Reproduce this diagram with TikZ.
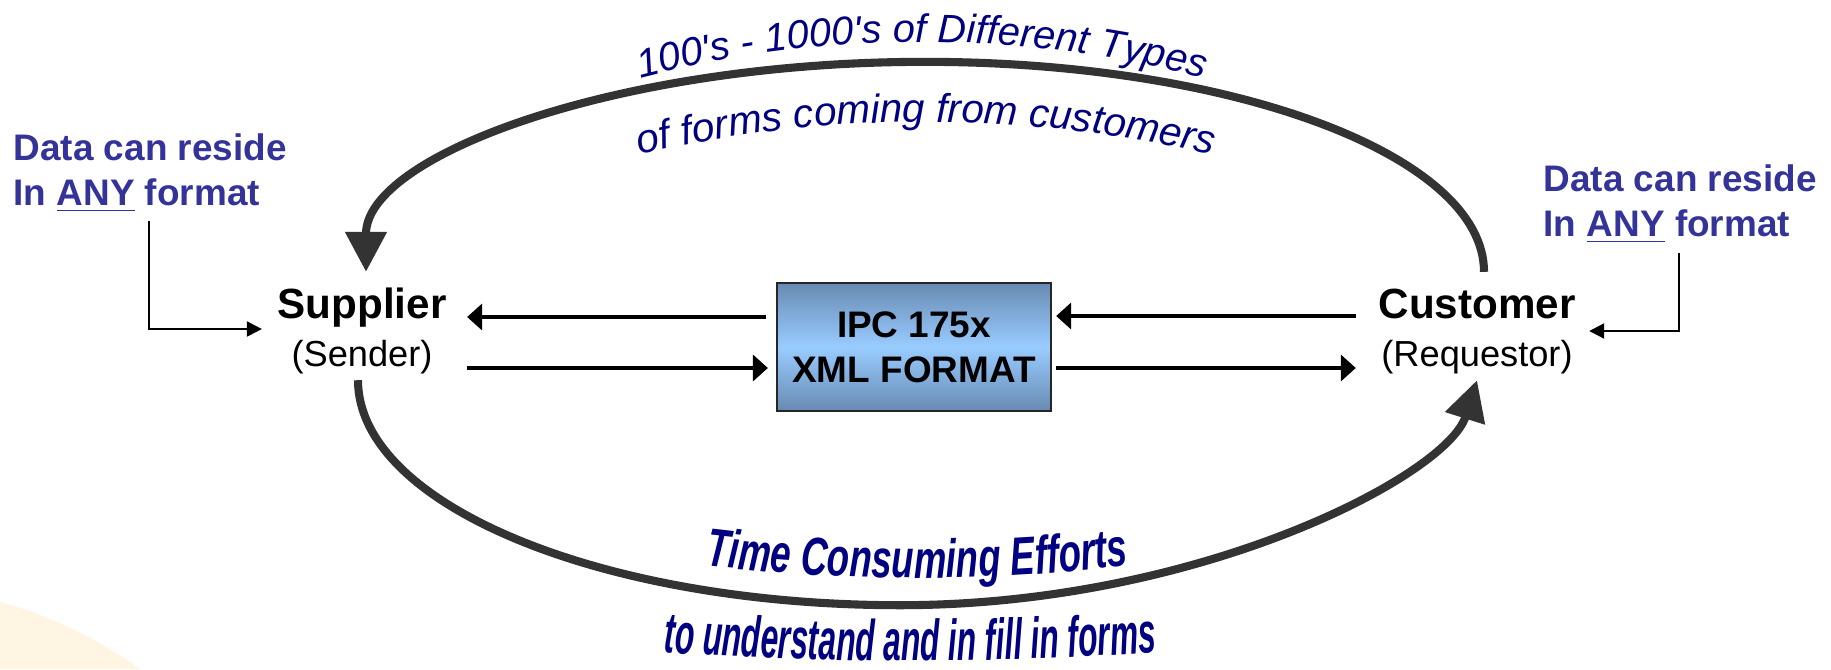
\documentclass[tikz,border=0pt]{standalone}
\usepackage{fontspec}
\setmainfont{Liberation Sans}
\newfontfamily\arcfont{Liberation Sans}
\newfontfamily\bottomfontA{Liberation Sans}[FakeStretch=0.68]
\newfontfamily\bottomfontB{Liberation Sans}[FakeStretch=0.55]
\usetikzlibrary{arrows.meta,decorations.text}
\definecolor{datablue}{RGB}{51,51,153}
\definecolor{navytext}{RGB}{0,0,128}
\definecolor{arcgray}{RGB}{51,51,51}
\definecolor{ipcdark}{RGB}{104,138,178}
\definecolor{ipclight}{RGB}{153,204,255}
\definecolor{blobcol}{RGB}{255,245,226}
\begin{document}
\begin{tikzpicture}[x=0.01cm,y=0.01cm,
  datatext/.style={anchor=north west, inner sep=0, align=left, text=datablue, font=\fontsize{10.5}{12.8}\selectfont\bfseries},
  party/.style={anchor=base, inner sep=0, font=\fontsize{12}{14}\selectfont\bfseries},
  role/.style={anchor=base, inner sep=0, font=\fontsize{10.3}{12}\selectfont},
  ipcbox/.style={draw=black!85, line width=0.6pt, top color=ipcdark, bottom color=ipcdark, middle color=ipclight, minimum width=2.74cm, minimum height=1.28cm, inner sep=0, align=center, font=\fontsize{10.5}{12.8}\selectfont\bfseries},
  flow/.style={line width=1.4pt, -{Triangle[length=0.15cm,width=0.26cm]}},
  elbow/.style={line width=0.6pt, -{Triangle[length=0.15cm,width=0.15cm]}},
  bigarc/.style={line width=2.3pt, draw=arcgray, -{Triangle[length=0.4cm,width=0.4cm]}},
  arctext/.style={decorate, decoration={text along path, text align=center, text color=navytext}}
]
\useasboundingbox (0,0) rectangle (1831,669);
\fill[white] (0,0) rectangle (1831,669);
\fill[blobcol] (0,67) .. controls (50,54) and (100,29) .. (140,0) -- (0,0) -- cycle;

\node[datatext] (dataL) at (13,536) {Data can reside\\In \underline{ANY} format};
\node[datatext] (dataR) at (1543,505) {Data can reside\\In \underline{ANY} format};
\node[party] (supplier) at (362,351) {Supplier};
\node[role] (sender) at (362,303) {(Sender)};
\node[party] (customer) at (1477,351) {Customer};
\node[role] (requestor) at (1477,303) {(Requestor)};
\node[ipcbox] (ipc) at (914,322) {IPC 175x\\XML FORMAT};

\coordinate (sE) at ([shift={(20,0)}]supplier.east);
\coordinate (cW) at ([shift={(-22,0)}]customer.west);
\coordinate (iwT) at ([shift={(-10,30)}]ipc.west);
\coordinate (iwB) at ([shift={(-8,-21)}]ipc.west);
\coordinate (ieT) at ([shift={(4,31)}]ipc.east);
\coordinate (ieB) at ([shift={(4,-21)}]ipc.east);
\draw[flow] (iwT) -- (iwT -| sE);
\draw[flow] (iwB -| sE) -- (iwB);
\draw[flow] (ieT -| cW) -- (ieT);
\draw[flow] (ieB) -- (ieB -| cW);

\coordinate (eL) at (149,448);
\coordinate (eR) at (1679,416);
\draw[elbow] (eL) |- ([shift={(-15,-11)}]supplier.base west);
\draw[elbow] (eR) |- ([shift={(13,-13)}]customer.base east);

\draw[bigarc] ([shift={(7,16)}]customer.north) arc[start angle=0,end angle=180,x radius=559,y radius=210];
\draw[bigarc] ([shift={(-4,-6)}]sender.south) arc[start angle=180,end angle=270,x radius=542,y radius=225] .. controls +(300,0) and +(-30,-95) .. ([shift={(0,-6)}]requestor.south);

\path[arctext, decoration={text={|\arcfont\itshape\fontsize{11.3}{13}\selectfont|100{\textquotesingle}s - 1000{\textquotesingle}s of Different Types}}, shift={(922,-490)}] (107:1117) arc[start angle=107,end angle=73,radius=1117];
\path[arctext, decoration={text={|\arcfont\itshape\fontsize{11.5}{13}\selectfont|of forms coming from customers}}, shift={(926,-733)}] (105:1280) arc[start angle=105,end angle=75,radius=1280];
\path[arctext, decoration={text={|\bottomfontA\bfseries\itshape\fontsize{15.3}{17}\selectfont|Time Consuming Efforts}}, shift={(917,1882)}] (261:1791) arc[start angle=261,end angle=279,radius=1791];
\path[arctext, decoration={text={|\bottomfontB\bfseries\itshape\fontsize{16.4}{18}\selectfont|to understand and in fill in forms}}, shift={(910,3552)}] (265:3544) arc[start angle=265,end angle=275,radius=3544];
\end{tikzpicture}
\end{document}
